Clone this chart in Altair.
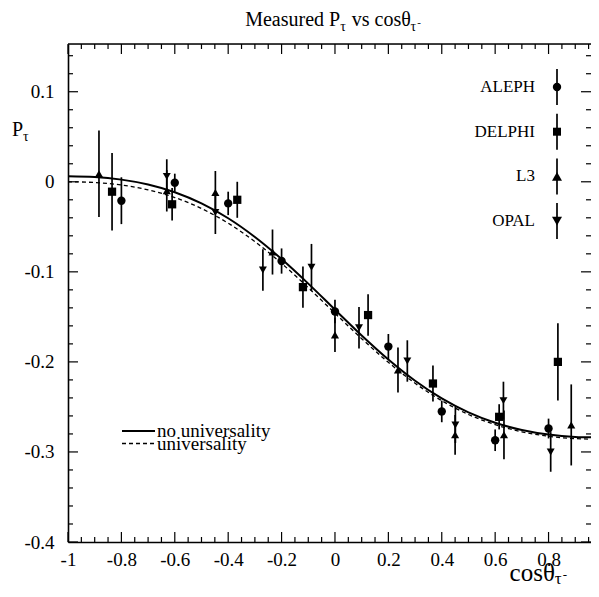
import altair as alt
import pandas as pd

# ---------------- data ----------------
experiments = ["ALEPH", "DELPHI", "L3", "OPAL"]
shapes = ["circle", "square", "triangle-up", "triangle-down"]
marker_sizes = [70, 64, 100, 100]

aleph_x = [-0.80, -0.60, -0.40, -0.20, 0.00, 0.20, 0.40, 0.60, 0.80]
aleph_y = [-0.021, -0.001, -0.024, -0.088, -0.144, -0.183, -0.255, -0.287, -0.274]
aleph_err = [0.026, 0.010, 0.013, 0.014, 0.013, 0.014, 0.012, 0.012, 0.011]

delphi_x = [-0.835, -0.61, -0.366, -0.12, 0.124, 0.367, 0.615, 0.835]
delphi_y = [-0.011, -0.025, -0.020, -0.117, -0.148, -0.224, -0.261, -0.200]
delphi_err = [0.043, 0.018, 0.020, 0.023, 0.023, 0.020, 0.014, 0.043]

l3_x = [-0.884, -0.63, -0.448, -0.234, 0.0, 0.236, 0.45, 0.633, 0.885]
l3_y = [0.009, -0.010, -0.012, -0.078, -0.170, -0.209, -0.281, -0.281, -0.270]
l3_err = [0.048, 0.023, 0.024, 0.025, 0.019, 0.025, 0.022, 0.027, 0.045]

opal_x = [-0.63, -0.448, -0.27, -0.088, 0.09, 0.271, 0.451, 0.631, 0.808]
opal_y = [0.006, -0.034, -0.098, -0.095, -0.162, -0.199, -0.270, -0.243, -0.300]
opal_err = [0.019, 0.024, 0.023, 0.026, 0.023, 0.023, 0.020, 0.021, 0.022]

curve_x = [-1.0, -0.9, -0.8, -0.7, -0.6, -0.5, -0.4, -0.3, -0.2, -0.1, 0.0,
           0.1, 0.2, 0.3, 0.4, 0.5, 0.6, 0.7, 0.8, 0.9, 1.0]
no_univ_y = [0.0061, 0.0053, 0.0024, -0.0030, -0.0116, -0.0240, -0.0405, -0.0613,
             -0.0858, -0.1131, -0.1420, -0.1706, -0.1973, -0.2209, -0.2406, -0.2561,
             -0.2676, -0.2756, -0.2807, -0.2833, -0.2840]
univ_y = [0.0, -0.0008, -0.0036, -0.0090, -0.0175, -0.0297, -0.0460, -0.0664,
          -0.0906, -0.1176, -0.1460, -0.1742, -0.2005, -0.2237, -0.2431, -0.2584,
          -0.2697, -0.2776, -0.2826, -0.2852, -0.2859]

x_tick_labels = [-1.0, -0.8, -0.6, -0.4, -0.2, 0.0, 0.2, 0.4, 0.6, 0.8]
y_tick_labels = [-0.4, -0.3, -0.2, -0.1, 0.0, 0.1]
x_minor = [round(-1 + 0.05 * i, 2) for i in range(40) if i % 4]
y_minor = [round(-0.4 + 0.02 * i, 2) for i in range(28) if i % 5]

legend_lines = ["no universality", "universality"]

# ---------------- layout ----------------
W, H = 523, 498
X_DOM = [-1.0, 0.959]
Y_DOM = [-0.4, 0.153]
FONT = "Liberation Serif"
ONE = alt.Data(values=[{"k": 0}])

rows = []
for name, xs_, ys_, es_ in [("ALEPH", aleph_x, aleph_y, aleph_err),
                            ("DELPHI", delphi_x, delphi_y, delphi_err),
                            ("L3", l3_x, l3_y, l3_err),
                            ("OPAL", opal_x, opal_y, opal_err)]:
    for x, y, e in zip(xs_, ys_, es_):
        rows.append({"exp": name, "x": x, "y": y, "lo": y - e, "hi": y + e})
df = pd.DataFrame(rows)

curves = pd.DataFrame({"x": curve_x, "nu": no_univ_y, "u": univ_y})

xs = alt.Scale(domain=X_DOM, nice=False, zero=False)
ys = alt.Scale(domain=Y_DOM, nice=False, zero=False)

x_axis = alt.Axis(values=x_tick_labels, labelExpr="'' + datum.value", ticks=False,
                  domain=True, domainColor="black", domainWidth=1.6, grid=False,
                  title=None, labelFlush=False, labelOverlap=False, labelPadding=8,
                  labelFont=FONT, labelFontSize=19, labelColor="black")
y_axis = alt.Axis(values=y_tick_labels, labelExpr="'' + datum.value", ticks=False,
                  domain=True, domainColor="black", domainWidth=1.6, grid=False,
                  title=None, labelFlush=False, labelOverlap=False, labelPadding=14,
                  labelFont=FONT, labelFontSize=19, labelColor="black")

layers = []

bars = alt.Chart(df).mark_rule(color="black", strokeWidth=1.7).encode(
    x=alt.X("x:Q", scale=xs, axis=x_axis),
    y=alt.Y("lo:Q", scale=ys, axis=y_axis),
    y2="hi:Q",
)
layers.append(bars)

points = alt.Chart(df).mark_point(filled=True, color="black", opacity=1).encode(
    x=alt.X("x:Q", scale=xs, axis=x_axis),
    y=alt.Y("y:Q", scale=ys, axis=y_axis),
    shape=alt.Shape("exp:N", scale=alt.Scale(domain=experiments, range=shapes), legend=None),
    size=alt.Size("exp:N", scale=alt.Scale(domain=experiments, range=marker_sizes), legend=None),
)
layers.append(points)

solid = alt.Chart(curves).mark_line(color="black", strokeWidth=2, clip=True,
                                    interpolate="monotone").encode(
    x=alt.X("x:Q", scale=xs, axis=x_axis), y=alt.Y("nu:Q", scale=ys, axis=y_axis))
dashed = alt.Chart(curves).mark_line(color="black", strokeWidth=1.3, clip=True,
                                     strokeDash=[4, 3], interpolate="monotone").encode(
    x=alt.X("x:Q", scale=xs, axis=x_axis), y=alt.Y("u:Q", scale=ys, axis=y_axis))
layers += [dashed, solid]

# top frame line (the reference's right frame line lies just off the picture)
layers.append(alt.Chart(ONE).mark_rule(color="black", strokeWidth=1.6).encode(
    x=alt.value(0), x2=alt.value(W), y=alt.value(0)))

# ---------------- inward ticks on all four sides ----------------
def xtick_layers(vals, length):
    d = pd.DataFrame({"v": vals})
    out = []
    for y0, y1 in [(H, H - length), (0, length)]:
        out.append(alt.Chart(d).mark_rule(color="black", strokeWidth=1.2).encode(
            x=alt.X("v:Q", scale=xs, axis=x_axis), y=alt.value(y0), y2=alt.value(y1)))
    return out

def ytick_layers(vals, length):
    d = pd.DataFrame({"v": vals})
    out = []
    for x0, x1 in [(0, length), (W, W - length)]:
        out.append(alt.Chart(d).mark_rule(color="black", strokeWidth=1.2).encode(
            y=alt.Y("v:Q", scale=ys, axis=y_axis), x=alt.value(x0), x2=alt.value(x1)))
    return out

layers += xtick_layers(x_tick_labels, 10) + xtick_layers(x_minor, 5)
layers += ytick_layers(y_tick_labels, 10) + ytick_layers(y_minor, 5)

# ---------------- helper for text pieces ----------------
TW = {'M': 889, 'e': 444, 'a': 444, 's': 389, 'u': 500, 'r': 333, 'd': 500, ' ': 250,
      'P': 556, 'v': 500, 'c': 444, 'o': 500, 'θ': 470, 'τ': 470, '-': 333}

def tw(s, size):
    return sum(TW.get(ch, 500) for ch in s) * size / 1000.0

def text_layer(txt, x, y, size, align="left", baseline="alphabetic"):
    return alt.Chart(ONE).mark_text(text=txt, align=align, baseline=baseline, font=FONT,
                                    fontSize=size, color="black").encode(
        x=alt.value(x), y=alt.value(y))

def chain(pieces, x0, y0):
    out = []
    x = x0
    for txt, size, dy in pieces:
        lead = len(txt) - len(txt.lstrip(" "))
        x += tw(" " * lead, size)
        body = txt.lstrip(" ")
        out.append(text_layer(body, x, y0 + dy, size))
        x += tw(body, size)
    return out

def chain_width(pieces):
    return sum(tw(t, s) for t, s, _ in pieces)

# title
title_pieces = [("Measured P", 20, 0), ("τ", 14, 5), (" vs cosθ", 20, 0), ("τ", 14, 5), ("-", 11, 0)]
layers += chain(title_pieces, 265 - chain_width(title_pieces) / 2, -18)

# y axis title
layers += chain([("P", 20, 0), ("τ", 14, 5)], -56, 92)

# x axis title
xt_pieces = [("cosθ", 25, 0), ("τ", 17, 3), ("-", 13, -2)]
layers += chain(xt_pieces, 499 - chain_width(xt_pieces), 537)

# ---------------- experiment legend (top right) ----------------
for i, (name, shp, sz) in enumerate(zip(experiments, shapes, marker_sizes)):
    yy = 43 + i * 44.7
    layers.append(text_layer(name, 467, yy, 17, align="right", baseline="middle"))
    layers.append(alt.Chart(ONE).mark_rule(color="black", strokeWidth=1.7).encode(
        x=alt.value(489), y=alt.value(yy - 18), y2=alt.value(yy + 18)))
    layers.append(alt.Chart(ONE).mark_point(shape=shp, size=sz, filled=True, color="black",
                                            opacity=1).encode(
        x=alt.value(489), y=alt.value(yy)))

# ---------------- curve legend (bottom left) ----------------
for i, (lab, dash) in enumerate(zip(legend_lines, [[1, 0], [4, 3]])):
    yy = 387 + i * 12.5
    layers.append(alt.Chart(ONE).mark_rule(color="black", strokeWidth=2 if i == 0 else 1.3,
                                           strokeDash=dash).encode(
        x=alt.value(54), x2=alt.value(87), y=alt.value(yy)))
    layers.append(text_layer(lab, 89, yy, 19, align="left", baseline="middle"))

chart = alt.layer(*layers).properties(
    width=W, height=H,
    autosize=alt.AutoSizeParams(type="none"),
    padding={"left": 60, "top": 36, "right": 0, "bottom": 47},
).configure_view(stroke=None).configure(background="white")

chart.save("out.html", embed_options={"renderer": "svg", "actions": False})
